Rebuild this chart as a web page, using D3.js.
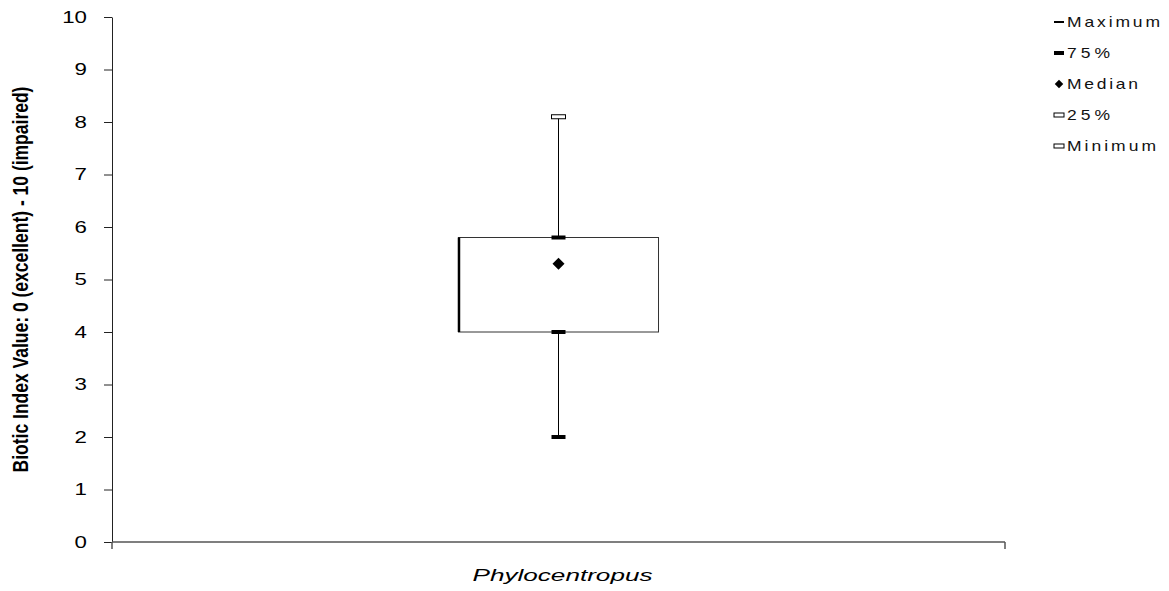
<!DOCTYPE html>
<html>
<head>
<meta charset="utf-8">
<script src="https://cdn.jsdelivr.net/npm/d3@7"></script>
<style>
  body { margin: 0; background: #fff; }
  svg { display: block; font-family: "Liberation Sans", Arial, sans-serif; }
</style>
</head>
<body>
<svg id="chart"></svg>
<script>
const width = 1169;
const height = 591;

// data
const categories = ['Phylocentropus'];
const statNames = ['Maximum', '75%', 'Median', '25%', 'Minimum'];
const statValues = [8.1, 5.8, 5.3, 4.0, 2.0];
const yTicks = [0, 1, 2, 3, 4, 5, 6, 7, 8, 9, 10];
const yTitle = 'Biotic Index Value: 0 (excellent) - 10 (impaired)';

const stat = {};
statNames.forEach((n, i) => stat[n] = statValues[i]);

const svg = d3.select('#chart')
    .attr('width', width)
    .attr('height', height);

const x = d3.scaleBand().domain(categories).range([112, 1005]).padding(0.634);
const y = d3.scaleLinear().domain([0, 10]).range([542, 17]);

// y axis
const yAxis = svg.append('g')
    .attr('transform', 'translate(112,0)')
    .call(d3.axisLeft(y).tickValues(yTicks).tickSize(8).tickSizeOuter(0).tickPadding(17));
yAxis.select('.domain').attr('stroke', '#222');
yAxis.selectAll('.tick line').attr('stroke', '#222');
yAxis.selectAll('.tick text')
    .attr('x', null)
    .attr('transform', 'translate(-25,0) scale(1.35,1)')
    .attr('font-size', 16.5)
    .attr('fill', '#000')
    .attr('font-family', '"Liberation Sans", Arial, sans-serif');

// x axis (only the end ticks)
const xAxis = svg.append('g')
    .attr('transform', 'translate(0,542)');
xAxis.append('line')
    .attr('x1', x.range()[0]).attr('x2', x.range()[1])
    .attr('stroke', '#555').attr('stroke-width', 1.5);
xAxis.selectAll('.edge')
    .data(x.range())
    .enter().append('line')
    .attr('x1', d => d).attr('x2', d => d)
    .attr('y1', 0).attr('y2', 7)
    .attr('stroke', '#555').attr('stroke-width', 1.5);

const cx = x(categories[0]) + x.bandwidth() / 2;

xAxis.append('text')
    .attr('x', cx + 4)
    .attr('y', 39)
    .attr('text-anchor', 'middle')
    .attr('font-size', 17)
    .attr('font-style', 'italic')
    .attr('textLength', 180)
    .attr('lengthAdjust', 'spacingAndGlyphs')
    .text(categories[0]);

// y title
svg.append('text')
    .attr('transform', `translate(28,${(y(0) + y(10)) / 2}) scale(1.25,1) rotate(-90)`)
    .attr('text-anchor', 'middle')
    .attr('font-size', 17.5)
    .attr('font-weight', 'bold')
    .text(yTitle);

// whisker
svg.append('line')
    .attr('x1', cx).attr('x2', cx)
    .attr('y1', y(stat['Minimum'])).attr('y2', y(stat['Maximum']))
    .attr('stroke', '#000').attr('stroke-width', 1);

// box
const bx0 = x(categories[0]);
svg.append('rect')
    .attr('x', bx0)
    .attr('y', y(stat['75%']))
    .attr('width', x.bandwidth())
    .attr('height', y(stat['25%']) - y(stat['75%']))
    .attr('fill', '#fff')
    .attr('stroke', '#333')
    .attr('stroke-width', 1);
svg.append('line')
    .attr('x1', bx0 + 0.5).attr('x2', bx0 + 0.5)
    .attr('y1', y(stat['75%'])).attr('y2', y(stat['25%']))
    .attr('stroke', '#000').attr('stroke-width', 2.5);

// markers on the chart
const chartMarkers = [
    {name: 'Maximum', style: 'hollow'},
    {name: '75%', style: 'solid'},
    {name: '25%', style: 'solid'},
    {name: 'Minimum', style: 'solid'}
];
svg.selectAll('.mark')
    .data(chartMarkers)
    .enter().append('rect')
    .attr('x', cx - 7)
    .attr('y', d => y(stat[d.name]) - 2)
    .attr('width', 14)
    .attr('height', 4)
    .attr('fill', d => d.style === 'hollow' ? '#fff' : '#000')
    .attr('stroke', '#000')
    .attr('stroke-width', d => d.style === 'hollow' ? 1 : 0);

svg.append('path')
    .attr('d', d3.symbol(d3.symbolSquare, 72)())
    .attr('transform', `translate(${cx},${y(stat['Median'])}) rotate(45)`)
    .attr('fill', '#000');

// legend
const legendStyles = ['thin', 'thick', 'diamond', 'hollow', 'hollow'];
const legendWidths = [93, 43, 71, 43, 89];
const legendScale = 1.25;
const legend = svg.append('g');
const item = legend.selectAll('g')
    .data(statNames)
    .enter().append('g')
    .attr('transform', (d, i) => `translate(1054,${22 + i * 31})`);

item.each(function (d, i) {
    const g = d3.select(this);
    const s = legendStyles[i];
    if (s === 'diamond') {
        g.append('path')
            .attr('d', d3.symbol(d3.symbolSquare, 36)())
            .attr('transform', 'translate(5,0) rotate(45)')
            .attr('fill', '#000');
    } else {
        g.append('rect')
            .attr('x', 0)
            .attr('y', s === 'thin' ? -1 : -2)
            .attr('width', 10)
            .attr('height', s === 'thin' ? 2 : 4)
            .attr('fill', s === 'hollow' ? '#fff' : '#000')
            .attr('stroke', s === 'hollow' ? '#000' : 'none')
            .attr('stroke-width', 1);
    }
    g.append('text')
        .attr('transform', `translate(13,5) scale(${legendScale},1)`)
        .attr('font-size', 14)
        .attr('fill', '#111')
        .attr('textLength', legendWidths[i] / legendScale)
        .attr('lengthAdjust', 'spacing')
        .text(d);
});
</script>
</body>
</html>
